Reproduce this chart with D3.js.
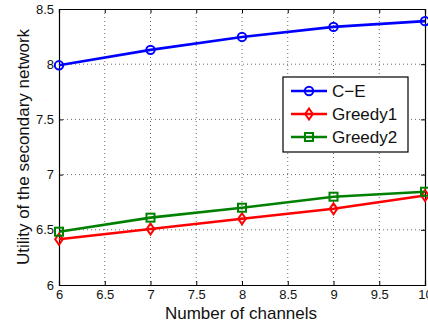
<!DOCTYPE html>
<html lang="en">
<head>
<meta charset="UTF-8">
<title>Utility vs channels</title>
<script src="https://cdnjs.cloudflare.com/ajax/libs/d3/7.8.5/d3.min.js"></script>
<style>
  html, body { margin: 0; padding: 0; background: #fff; }
  svg { display: block; font-family: "Liberation Sans", Arial, sans-serif; }
</style>
</head>
<body>
<div id="chart"></div>
<script>
// data
const channels = [6, 7, 8, 9, 10];
const ceValues = [7.99, 8.13, 8.247, 8.338, 8.39];
const greedy1Values = [6.414, 6.507, 6.60, 6.69, 6.81];
const greedy2Values = [6.483, 6.61, 6.70, 6.80, 6.845];
const seriesNames = ["C\u2212E", "Greedy1", "Greedy2"];
const xTicks = [6, 6.5, 7, 7.5, 8, 8.5, 9, 9.5, 10];
const yTicks = [6, 6.5, 7, 7.5, 8, 8.5];

const width = 428, height = 324;
const margin = { top: 9, right: 3, bottom: 39, left: 59 };
const innerW = width - margin.left - margin.right;
const innerH = height - margin.top - margin.bottom;

const svg = d3.select("#chart").append("svg")
    .attr("width", width)
    .attr("height", height);

const g = svg.append("g").attr("transform", `translate(${margin.left},${margin.top})`);

const x = d3.scaleLinear().domain([6, 10]).range([0, innerW]);
const y = d3.scaleLinear().domain([6, 8.5]).range([innerH, 0]);

// grid
g.append("g").selectAll("line").data(xTicks.slice(1, -1)).join("line")
    .attr("x1", d => x(d)).attr("x2", d => x(d))
    .attr("y1", 0).attr("y2", innerH)
    .attr("stroke", "#444").attr("stroke-width", 0.8).attr("stroke-dasharray", "1,3");
g.append("g").selectAll("line").data(yTicks.slice(1, -1)).join("line")
    .attr("y1", d => y(d)).attr("y2", d => y(d))
    .attr("x1", 0).attr("x2", innerW)
    .attr("stroke", "#444").attr("stroke-width", 0.8).attr("stroke-dasharray", "1,3");

// axes (ticks inside, matlab style)
g.append("g").attr("transform", `translate(0,${innerH})`)
    .call(d3.axisBottom(x).tickValues(xTicks).tickSize(-4).tickPadding(5).tickFormat(d3.format("")));
g.append("g")
    .call(d3.axisLeft(y).tickValues(yTicks).tickSize(-4).tickPadding(5).tickFormat(d3.format("")));
g.append("g").call(d3.axisTop(x).tickValues(xTicks).tickSize(-4).tickFormat(""));
g.append("g").attr("transform", `translate(${innerW},0)`)
    .call(d3.axisRight(y).tickValues(yTicks).tickSize(-4).tickFormat(""));

g.selectAll(".domain").attr("stroke", "#000").attr("stroke-width", 1.2);
g.selectAll(".tick line").attr("stroke", "#000");
g.selectAll(".tick text").attr("font-size", 13).attr("fill", "#111")
    .attr("font-family", "Liberation Sans, Arial, sans-serif");

// series
const series = [
  { name: seriesNames[0], values: ceValues, color: "#0000ff", marker: "circle" },
  { name: seriesNames[1], values: greedy1Values, color: "#ff0000", marker: "diamond" },
  { name: seriesNames[2], values: greedy2Values, color: "#008000", marker: "square" }
];

const line = d3.line().x((d, i) => x(channels[i])).y(d => y(d));

function drawMarker(sel, type, color) {
  if (type === "circle") {
    sel.append("circle").attr("r", 4.2);
  } else if (type === "diamond") {
    sel.append("path").attr("d", "M0,-5.5L3.8,0L0,5.5L-3.8,0Z");
  } else {
    sel.append("rect").attr("x", -4).attr("y", -4).attr("width", 8).attr("height", 8);
  }
  sel.selectAll("*").attr("fill", "none").attr("stroke", color).attr("stroke-width", 2);
}

series.forEach(s => {
  g.append("path").datum(s.values)
    .attr("d", line)
    .attr("fill", "none")
    .attr("stroke", s.color)
    .attr("stroke-width", 2.6);
  s.values.forEach((v, i) => {
    const m = g.append("g").attr("transform", `translate(${x(channels[i])},${y(v)})`);
    drawMarker(m, s.marker, s.color);
  });
});

// legend
const legend = svg.append("g").attr("transform", "translate(283,77)");
legend.append("rect").attr("width", 125).attr("height", 75)
    .attr("fill", "#fff").attr("stroke", "#000").attr("stroke-width", 1.2);
series.forEach((s, i) => {
  const row = legend.append("g").attr("transform", `translate(0,${14 + i * 23})`);
  row.append("line").attr("x1", 8).attr("x2", 44).attr("y1", 0).attr("y2", 0)
    .attr("stroke", s.color).attr("stroke-width", 2.6);
  const m = row.append("g").attr("transform", "translate(26,0)");
  drawMarker(m, s.marker, s.color);
  row.append("text").attr("x", 49).attr("y", 0).attr("dy", "0.36em")
    .attr("font-size", 17).attr("fill", "#111").text(s.name);
});

// axis labels
svg.append("text")
    .attr("x", 241).attr("y", 319)
    .attr("text-anchor", "middle").attr("font-size", 17).attr("fill", "#111")
    .text("Number of channels");
svg.append("text")
    .attr("transform", `translate(29,${margin.top + innerH / 2}) rotate(-90)`)
    .attr("text-anchor", "middle").attr("font-size", 17).attr("fill", "#111")
    .text("Utility of the secondary network");
</script>
</body>
</html>
